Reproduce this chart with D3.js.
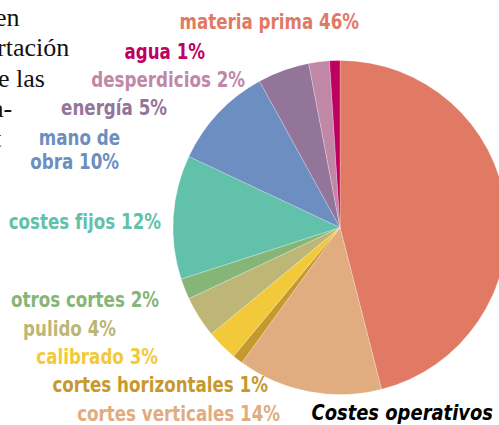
<!DOCTYPE html>
<html lang="es">
  <head>
    <meta charset="UTF-8" />
    <title>costes operativos</title>
    <style>
      body {
        margin: 0;
        background: #fff;
      }
      .lbl {
        font-family: "DejaVu Sans Condensed", "DejaVu Sans", sans-serif;
        font-weight: bold;
        font-size: 21px;
      }
      .para {
        font-family: "Liberation Serif", serif;
        font-size: 26px;
        fill: #111;
      }
    </style>
  </head>
  <body>
    <div class="container"></div>
    <script src="https://d3js.org/d3.v7.min.js"></script>
    <script>
      // datos (sentido horario desde arriba)
      const categories = [
        "materia prima",
        "cortes verticales",
        "cortes horizontales",
        "calibrado",
        "pulido",
        "otros cortes",
        "costes fijos",
        "mano de obra",
        "energía",
        "desperdicios",
        "agua",
      ];
      const values = [46, 14, 1, 3, 4, 2, 12, 10, 5, 2, 1];
      const colors = [
        "#e07a64",
        "#e0ac80",
        "#c6992e",
        "#f2c93a",
        "#bdb676",
        "#86b578",
        "#62c1aa",
        "#6c8ec0",
        "#927598",
        "#c087a6",
        "#be0062",
      ];
      // texto del articulo que queda cortado a la izquierda
      const paraLines = ["en", "rtación", "e las", "a-", "t"];
      const paraShift = [-5, -3, -2, -8, -6];

      // posiciones de las etiquetas (fin del texto, linea base)
      const labelPos = [
        [359, 29],
        [280, 421],
        [268, 392],
        [158, 364],
        [116, 336],
        [159, 307],
        [161, 229],
        [120, 145],
        [167, 115],
        [245, 87],
        [205, 59],
      ];
      const sx = 0.885; // letra condensada

      const width = 499,
        height = 425;
      const cx = 340,
        cy = 227.5,
        radius = 167;

      const svg = d3
        .select(".container")
        .append("svg")
        .attr("width", width)
        .attr("height", height);

      // parrafo
      svg
        .append("g")
        .selectAll("text")
        .data(paraLines)
        .join("text")
        .attr("class", "para")
        .attr("x", (d, i) => paraShift[i])
        .attr("y", (d, i) => 26 + i * 30.3)
        .text((d) => d);

      // tarta
      const pie = d3
        .pie()
        .sort(null)
        .value((d) => d)
        .startAngle(0)
        .endAngle(2 * Math.PI);

      const arc = d3.arc().innerRadius(0).outerRadius(radius);

      svg
        .append("g")
        .attr("transform", `translate(${cx},${cy})`)
        .selectAll("path")
        .data(pie(values))
        .join("path")
        .attr("d", arc)
        .attr("fill", (d, i) => colors[i])
        .attr("stroke", "#fff")
        .attr("stroke-width", 0.4)
        .attr("stroke-opacity", 0.6);

      // etiquetas
      const lg = svg.append("g");
      categories.forEach((c, i) => {
        const t = lg
          .append("text")
          .attr("class", "lbl")
          .attr("text-anchor", "end")
          .attr("fill", colors[i])
          .attr("transform", `translate(${labelPos[i][0]},${labelPos[i][1]}) scale(${sx},1)`);
        if (c === "mano de obra") {
          t.append("tspan").attr("x", 0).text("mano de");
          t.append("tspan")
            .attr("x", -1)
            .attr("dy", 24)
            .text("obra " + values[i] + "%");
        } else {
          t.text(c + " " + values[i] + "%");
        }
      });

      // titulo
      svg
        .append("text")
        .attr("class", "lbl")
        .attr("text-anchor", "end")
        .attr("transform", "translate(493,420) scale(0.95,1)")
        .attr("font-size", 22)
        .attr("font-style", "italic")
        .attr("fill", "#000")
        .text("Costes operativos");
    </script>
  </body>
</html>
